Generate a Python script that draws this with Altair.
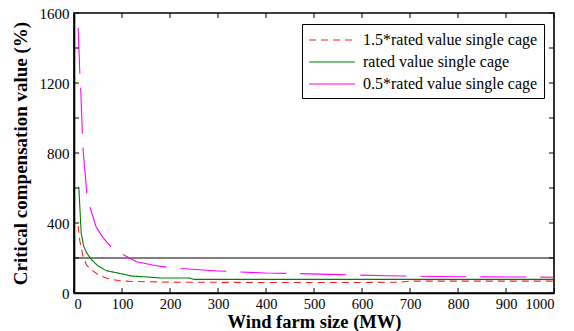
import altair as alt
import pandas as pd

# Data
x_high = [8.5, 12, 19, 26, 36, 50, 68, 95, 120, 200, 400, 600, 680, 700, 1000]
y_high = [383, 300, 207, 160, 133, 105, 84, 70, 66, 62, 60, 60, 62, 68, 68]

x_rated = [10, 15, 20, 26, 36, 50, 68, 95, 120, 150, 179, 240, 250, 400, 600, 800, 1000]
y_rated = [607, 341, 270, 230, 192, 155, 127, 112, 97, 92, 86, 86, 78, 78, 78, 78, 78]

x_low = [8.6, 12, 14, 17.5, 19, 27, 36, 46, 60, 81, 113, 130, 172, 200, 238, 300, 400, 450, 550, 650, 800, 950, 1000]
y_low = [1516, 1265, 1164, 903, 817, 560, 465, 379, 318, 250, 204, 179, 156, 145, 137, 126, 114, 112, 105, 99, 93, 91, 90]

series_names = ["1.5*rated value single cage", "rated value single cage", "0.5*rated value single cage"]
series_colors = ["#ff2020", "#007f00", "#ff00ff"]
series_dashes = [[7, 5], [1, 0], [46, 14]]

x_ticks = [0, 100, 200, 300, 400, 500, 600, 700, 800, 900, 1000]
y_ticks = [0, 200, 400, 600, 800, 1000, 1200, 1400, 1600]
limit_value = [200]

rows = []
for name, xs, ys in zip(series_names, [x_high, x_rated, x_low], [y_high, y_rated, y_low]):
    for i, (a, b) in enumerate(zip(xs, ys)):
        rows.append({"series": name, "x": a, "y": b, "order": i})
df = pd.DataFrame(rows)

W, H = 480, 280
FONT = "Liberation Serif, Times New Roman, DejaVu Serif, serif"

xscale = alt.Scale(domain=[0, 1000], nice=False)
yscale = alt.Scale(domain=[0, 1600], nice=False)

leg = alt.Legend(title=None, orient="none", legendX=228, legendY=11,
                 symbolType="M-1,0H4.11", symbolSize=324,
                 symbolStrokeWidth=1.1, labelFont=FONT, labelFontSize=16, labelLimit=400,
                 labelColor="black", strokeColor="black", fillColor="white",
                 padding=6, rowPadding=4, labelOffset=35)

lines = alt.Chart(df).mark_line(strokeWidth=1.1).encode(
    x=alt.X("x:Q", scale=xscale,
            axis=alt.Axis(title="Wind farm size (MW)", values=x_ticks, ticks=False, format="d",
                          labelPadding=4, labelFontSize=14.5, titlePadding=2, titleFontSize=18.5,
                          grid=False)),
    y=alt.Y("y:Q", scale=yscale,
            axis=alt.Axis(title="Critical compensation value (%)", values=y_ticks, ticks=False, format="d",
                          labelPadding=5, titlePadding=9, grid=False)),
    color=alt.Color("series:N",
                    scale=alt.Scale(domain=series_names, range=series_colors),
                    legend=leg),
    strokeDash=alt.StrokeDash("series:N",
                              scale=alt.Scale(domain=series_names, range=series_dashes),
                              legend=leg),
    order="order:Q",
)

hline = alt.Chart(pd.DataFrame({"v": limit_value})).mark_rule(color="black", strokeWidth=1).encode(
    y=alt.Y("v:Q", scale=yscale)
)

xt = pd.DataFrame({"t": x_ticks})
yt = pd.DataFrame({"t": y_ticks})
tick_bottom = alt.Chart(xt).mark_rule(color="black", strokeWidth=1).encode(
    x=alt.X("t:Q", scale=xscale), y=alt.value(H), y2=alt.value(H - 5))
tick_top = alt.Chart(xt).mark_rule(color="black", strokeWidth=1).encode(
    x=alt.X("t:Q", scale=xscale), y=alt.value(0), y2=alt.value(5))
tick_left = alt.Chart(yt).mark_rule(color="black", strokeWidth=1).encode(
    y=alt.Y("t:Q", scale=yscale), x=alt.value(0), x2=alt.value(5))
tick_right = alt.Chart(yt).mark_rule(color="black", strokeWidth=1).encode(
    y=alt.Y("t:Q", scale=yscale), x=alt.value(W), x2=alt.value(W - 5))

chart = alt.layer(hline, lines, tick_bottom, tick_top, tick_left, tick_right).properties(
    width=W, height=H,
    autosize=alt.AutoSizeParams(type="none"),
    padding={"left": 74, "top": 13, "right": 20, "bottom": 38},
    background="white",
).configure_view(
    stroke="black", strokeWidth=1.6
).configure_axis(
    domainColor="black", domainWidth=1.6,
    labelFont=FONT, labelFontSize=15, labelColor="black",
    titleFont=FONT, titleFontSize=19, titleFontWeight="bold", titleColor="black",
).configure_legend(
    labelFont=FONT
)

chart.save("out.html", embed_options={"renderer": "svg", "actions": False})
